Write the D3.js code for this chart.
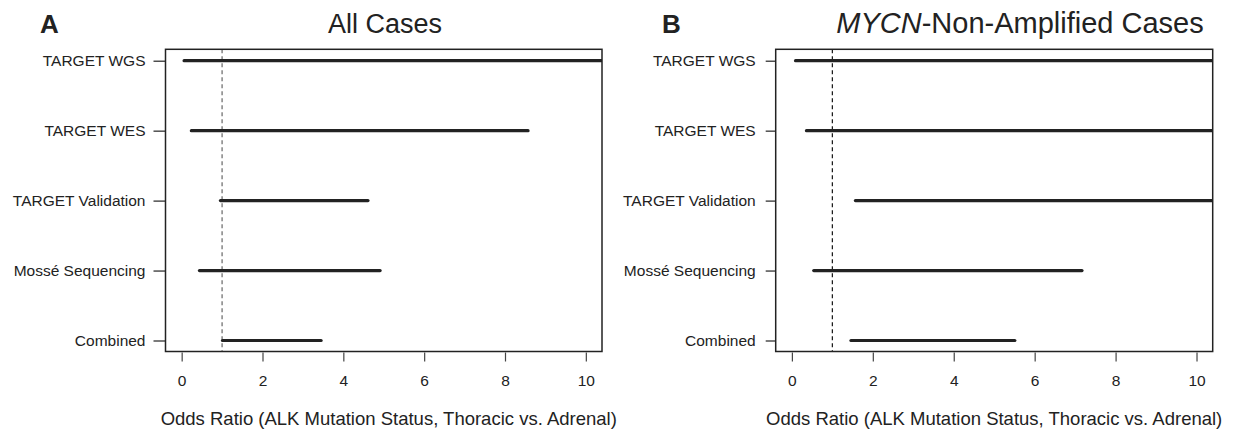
<!DOCTYPE html>
<html>
<head>
<meta charset="utf-8">
<script src="https://cdn.jsdelivr.net/npm/d3@7"></script>
<style>
  html, body { margin: 0; padding: 0; background: #fff; }
  svg { display: block; font-family: "Liberation Sans", Arial, Helvetica, sans-serif; }
</style>
</head>
<body>
<svg id="chart" width="1234" height="431"></svg>
<script>
// study rows, top to bottom
const studies = ["TARGET WGS", "TARGET WES", "TARGET Validation", "Mossé Sequencing", "Combined"];

// 95% CI of the odds ratio, all cases
const allLower = [0.06, 0.24, 0.96, 0.44, 1.01];
const allUpper = [13.5, 8.57, 4.61, 4.91, 3.45];

// 95% CI of the odds ratio, MYCN-non-amplified cases
const mycnLower = [0.09, 0.36, 1.57, 0.54, 1.46];
const mycnUpper = [15.0, 12.5, 11.5, 7.17, 5.51];

const nullValue = 1;
const xTicks = [0, 2, 4, 6, 8, 10];
const xAxisTitle = "Odds Ratio (ALK Mutation Status, Thoracic vs. Adrenal)";

const svg = d3.select("#chart");
const ink = "#222";

function drawPanel(opts) {
    const { left, right, top, bottom, lower, upper, id, dashColor } = opts;

    // R style 4% extension of the [0, 10] range
    const x = d3.scaleLinear().domain([-0.4, 10.4]).range([left, right]);
    const y = d3.scalePoint().domain(studies).range([top + 11.4, bottom - 11]);

    const g = svg.append("g");

    g.append("clipPath").attr("id", id)
        .append("rect")
        .attr("x", left).attr("y", top)
        .attr("width", right - left).attr("height", bottom - top);

    // reference line at OR = 1
    g.append("line")
        .attr("x1", x(nullValue)).attr("x2", x(nullValue))
        .attr("y1", top).attr("y2", bottom)
        .attr("stroke", dashColor)
        .attr("stroke-width", 1.2)
        .attr("stroke-dasharray", "4,3");

    // confidence interval segments
    g.append("g")
        .attr("clip-path", `url(#${id})`)
        .selectAll("line")
        .data(studies)
        .enter()
        .append("line")
        .attr("x1", (d, i) => x(lower[i]))
        .attr("x2", (d, i) => x(upper[i]))
        .attr("y1", d => y(d))
        .attr("y2", d => y(d))
        .attr("stroke", ink)
        .attr("stroke-width", 3.2)
        .attr("stroke-linecap", "round");

    // box
    g.append("rect")
        .attr("x", left).attr("y", top)
        .attr("width", right - left).attr("height", bottom - top)
        .attr("fill", "none")
        .attr("stroke", ink)
        .attr("stroke-width", 1.5);

    // x axis
    const xAxis = g.append("g")
        .attr("transform", `translate(0,${bottom})`)
        .call(d3.axisBottom(x).tickValues(xTicks).tickSize(9).tickPadding(14).tickFormat(d3.format("d")));
    xAxis.select(".domain").remove();
    xAxis.selectAll(".tick line").attr("stroke", "#444").attr("stroke-width", 1.2).attr("transform", "translate(0,1)");
    xAxis.selectAll(".tick text").attr("fill", ink).style("font-size", "15.5px");

    // y axis
    const yAxis = g.append("g")
        .attr("transform", `translate(${left},0)`)
        .call(d3.axisLeft(y).tickSize(opts.yTick).tickPadding(opts.yPad));
    yAxis.select(".domain").remove();
    yAxis.selectAll(".tick line").attr("stroke", ink).attr("stroke-width", 1.2);
    yAxis.selectAll(".tick text").attr("fill", ink).style("font-size", "15.5px");

    // axis title
    g.append("text")
        .attr("x", (left + right) / 2 + opts.titleShift)
        .attr("y", 425)
        .attr("text-anchor", "middle")
        .attr("fill", ink)
        .style("font-size", "18.5px")
        .text(xAxisTitle);

    return g;
}

const panelA = drawPanel({
    left: 165.5, right: 602, top: 49.3, bottom: 351.5,
    lower: allLower, upper: allUpper, id: "clipA", dashColor: "#666",
    titleShift: 5, yTick: 12, yPad: 8
});
panelA.append("text")
    .attr("x", 40).attr("y", 33)
    .attr("fill", ink)
    .style("font-size", "26px").style("font-weight", "bold")
    .text("A");
panelA.append("text")
    .attr("x", 385).attr("y", 33)
    .attr("text-anchor", "middle")
    .attr("fill", ink)
    .style("font-size", "27px")
    .text("All Cases");

const panelB = drawPanel({
    left: 775.7, right: 1212.7, top: 49.3, bottom: 351.5,
    lower: mycnLower, upper: mycnUpper, id: "clipB", dashColor: "#111",
    titleShift: 0, yTick: 10, yPad: 10
});
panelB.append("text")
    .attr("x", 662).attr("y", 33)
    .attr("fill", ink)
    .style("font-size", "26px").style("font-weight", "bold")
    .text("B");
const titleB = panelB.append("text")
    .attr("x", 1020).attr("y", 33)
    .attr("text-anchor", "middle")
    .attr("fill", ink)
    .style("font-size", "29px");
titleB.append("tspan").style("font-style", "italic").text("MYCN");
titleB.append("tspan").text("-Non-Amplified Cases");
</script>
</body>
</html>
